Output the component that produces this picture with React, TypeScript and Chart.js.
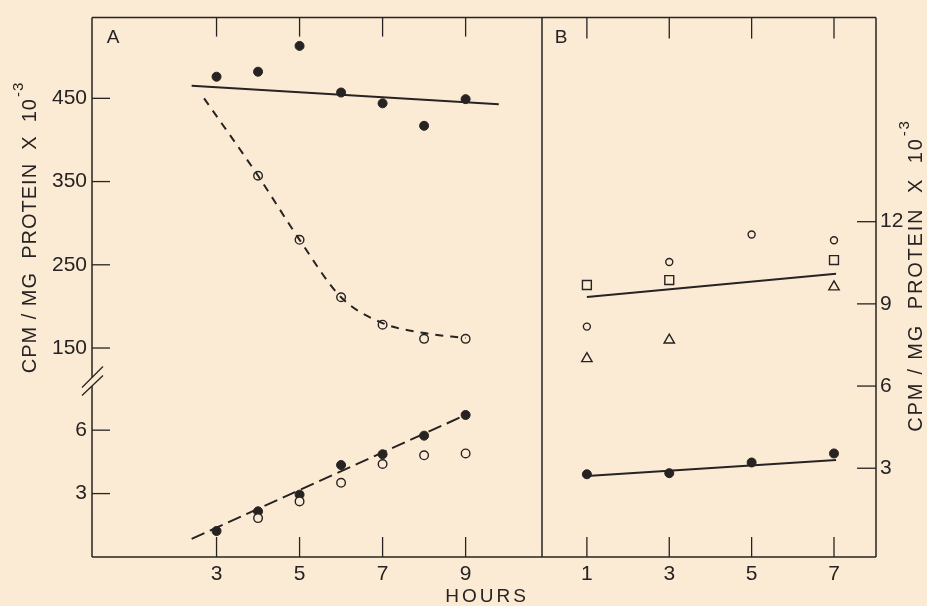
import React, { useEffect, useRef } from 'react';
import { Chart, registerables } from 'chart.js';

Chart.register(...registerables);

// ---------- data ----------
const HOURS_A = [3, 4, 5, 6, 7, 8, 9];
const A_UPPER_FILLED = [476, 482, 513, 457, 444, 417, 449];
const A_UPPER_OPEN_HOURS = [4, 5, 6, 7, 8, 9];
const A_UPPER_OPEN = [357, 280, 211, 178, 161, 161];
const A_UPPER_FIT_HOURS = [2.4, 9.8];
const A_UPPER_FIT = [465, 443];
const A_CURVE_HOURS = [2.7, 4, 5, 6, 7, 8, 9];
const A_CURVE = [450, 357, 280, 211, 180, 168, 162];
const A_LOWER_FILLED = [1.23, 2.16, 2.95, 4.35, 4.86, 5.74, 6.72];
const A_LOWER_OPEN_HOURS = [4, 5, 6, 7, 8, 9];
const A_LOWER_OPEN = [1.84, 2.63, 3.51, 4.4, 4.81, 4.9];
const A_LOWER_FIT_HOURS = [2.4, 9.0];
const A_LOWER_FIT = [0.86, 6.72];

const HOURS_B = [1, 3, 5, 7];
const B_FILLED = [2.78, 2.82, 3.21, 3.54];
const B_FILLED_FIT_HOURS = [1, 7.05];
const B_FILLED_FIT = [2.72, 3.3];
const B_OPEN = [8.17, 10.53, 11.53, 11.32];
const B_SQUARE_HOURS = [1, 3, 7];
const B_SQUARE = [9.69, 9.87, 10.6];
const B_TRIANGLE_HOURS = [1, 3, 7];
const B_TRIANGLE = [7.0, 7.68, 9.62];
const B_OPEN_FIT_HOURS = [1, 7.05];
const B_OPEN_FIT = [9.25, 10.1];

const TICKS_A_X = [3, 5, 7, 9];
const TICKS_B_X = [1, 3, 5, 7];
const TICKS_A_UPPER = [150, 250, 350, 450];
const TICKS_A_LOWER = [3, 6];
const TICKS_B_Y = [3, 6, 9, 12];

const Y_TITLE = 'CPM / MG  PROTEIN  X  10';
const Y_TITLE_SUP = '-3';
const X_TITLE = 'HOURS';

// ---------- style ----------
const BG = '#fcebd4';
const INK = '#262322';
const FONT = '"Liberation Sans", Arial, sans-serif';

const pts = (xs: number[], ys: number[]) => xs.map((x, i) => ({ x, y: ys[i] }));

const fixedTicks = (values: number[]) => (scale: any) => {
  scale.ticks = values.map((v) => ({ value: v }));
};

function drawRotatedTitle(ctx: CanvasRenderingContext2D, cx: number, cy: number, spacing: number) {
  ctx.save();
  ctx.translate(cx, cy);
  ctx.rotate(-Math.PI / 2);
  ctx.fillStyle = INK;
  (ctx as any).letterSpacing = `${spacing}px`;
  const mainFont = `20px ${FONT}`;
  const supFont = `15px ${FONT}`;
  ctx.font = mainFont;
  const w1 = ctx.measureText(Y_TITLE).width;
  ctx.font = supFont;
  const w2 = ctx.measureText(Y_TITLE_SUP).width;
  const x0 = -(w1 + w2) / 2;
  ctx.textAlign = 'left';
  ctx.textBaseline = 'middle';
  ctx.font = mainFont;
  ctx.fillText(Y_TITLE, x0, 0);
  ctx.font = supFont;
  ctx.fillText(Y_TITLE_SUP, x0 + w1 + 1, -11);
  ctx.restore();
}

const framePlugin = {
  id: 'frame',
  beforeDraw(chart: any) {
    const { ctx, width, height } = chart;
    ctx.save();
    ctx.fillStyle = BG;
    ctx.fillRect(0, 0, width, height);
    ctx.restore();
  },
  afterDraw(chart: any) {
    const { ctx, chartArea: ca, scales } = chart;
    const { xA, xB, yTop, yBot, yB } = scales;
    const line = (x1: number, y1: number, x2: number, y2: number) => {
      ctx.beginPath();
      ctx.moveTo(x1, y1);
      ctx.lineTo(x2, y2);
      ctx.stroke();
    };
    ctx.save();
    ctx.strokeStyle = INK;
    ctx.lineWidth = 1.5;
    ctx.lineCap = 'butt';
    // frame
    line(ca.left, ca.top, ca.right, ca.top);
    line(ca.left, ca.bottom, ca.right, ca.bottom);
    line(ca.right, ca.top, ca.right, ca.bottom);
    line(xA.right, ca.top, xA.right, ca.bottom);
    const breakY = Math.max(yTop.bottom, yBot.top);
    line(ca.left, ca.top, ca.left, breakY - 3);
    line(ca.left, breakY + 5.5, ca.left, ca.bottom);
    // break marks
    ctx.lineWidth = 1.3;
    line(ca.left - 10, breakY + 7, ca.left + 11, breakY - 14);
    line(ca.left - 10, breakY + 15, ca.left + 11, breakY - 5);
    // inward ticks
    ctx.lineWidth = 1.3;
    for (const v of TICKS_A_X) {
      const x = xA.getPixelForValue(v);
      line(x, ca.bottom, x, ca.bottom - 20);
      line(x, ca.top, x, ca.top + 19);
    }
    for (const v of TICKS_B_X) {
      const x = xB.getPixelForValue(v);
      line(x, ca.bottom, x, ca.bottom - 20);
      line(x, ca.top, x, ca.top + 21);
    }
    for (const v of TICKS_A_UPPER) {
      const y = yTop.getPixelForValue(v);
      line(ca.left, y, ca.left + 18, y);
    }
    for (const v of TICKS_A_LOWER) {
      const y = yBot.getPixelForValue(v);
      line(ca.left, y, ca.left + 18, y);
    }
    for (const v of TICKS_B_Y) {
      const y = yB.getPixelForValue(v);
      line(ca.right, y, ca.right - 19, y);
    }
    // panel letters
    ctx.fillStyle = INK;
    ctx.font = `19px ${FONT}`;
    ctx.textAlign = 'center';
    ctx.textBaseline = 'middle';
    ctx.fillText('A', ca.left + 21, ca.top + 20);
    ctx.fillText('B', xA.right + 19, ca.top + 20);
    // axis titles
    drawRotatedTitle(ctx, 30, 228, 1);
    drawRotatedTitle(ctx, 916, 276, 1.8);
    ctx.font = `19px ${FONT}`;
    (ctx as any).letterSpacing = '3px';
    ctx.textAlign = 'center';
    ctx.textBaseline = 'middle';
    ctx.fillText(X_TITLE, 487, 597);
    ctx.restore();
  },
};

const filled = (r: number) => ({
  pointStyle: 'circle',
  pointRadius: r,
  pointBackgroundColor: INK,
  pointBorderColor: INK,
  pointBorderWidth: 1,
  showLine: false,
});
const open = (r: number, style = 'circle') => ({
  pointStyle: style,
  pointRadius: r,
  pointBackgroundColor: BG,
  pointBorderColor: INK,
  pointBorderWidth: 1.4,
  showLine: false,
});
const fitLine = (dash: number[]) => ({
  showLine: true,
  pointRadius: 0,
  borderColor: INK,
  borderWidth: 2,
  borderDash: dash,
});

export default function App() {
  const ref = useRef<HTMLCanvasElement | null>(null);

  useEffect(() => {
    if (!ref.current) return;
    const tickFont = { family: FONT, size: 21 };
    const chart = new Chart(ref.current, {
      type: 'scatter',
      data: {
        datasets: [
          { label: 'A upper fit', data: pts(A_UPPER_FIT_HOURS, A_UPPER_FIT), xAxisID: 'xA', yAxisID: 'yTop', ...fitLine([]) },
          { label: 'A curve', data: pts(A_CURVE_HOURS, A_CURVE), xAxisID: 'xA', yAxisID: 'yTop', ...fitLine([8, 7]), cubicInterpolationMode: 'monotone' },
          { label: 'A lower fit', data: pts(A_LOWER_FIT_HOURS, A_LOWER_FIT), xAxisID: 'xA', yAxisID: 'yBot', ...fitLine([14, 6]) },
          { label: 'B filled fit', data: pts(B_FILLED_FIT_HOURS, B_FILLED_FIT), xAxisID: 'xB', yAxisID: 'yB', ...fitLine([]) },
          { label: 'B open fit', data: pts(B_OPEN_FIT_HOURS, B_OPEN_FIT), xAxisID: 'xB', yAxisID: 'yB', ...fitLine([]) },
          { label: 'A upper filled', data: pts(HOURS_A, A_UPPER_FILLED), xAxisID: 'xA', yAxisID: 'yTop', ...filled(4.5) },
          { label: 'A upper open', data: pts(A_UPPER_OPEN_HOURS, A_UPPER_OPEN), xAxisID: 'xA', yAxisID: 'yTop', ...open(4.3) },
          { label: 'A lower open', data: pts(A_LOWER_OPEN_HOURS, A_LOWER_OPEN), xAxisID: 'xA', yAxisID: 'yBot', ...open(4.3) },
          { label: 'A lower filled', data: pts(HOURS_A, A_LOWER_FILLED), xAxisID: 'xA', yAxisID: 'yBot', ...filled(4.5) },
          { label: 'B filled', data: pts(HOURS_B, B_FILLED), xAxisID: 'xB', yAxisID: 'yB', ...filled(4.5) },
          { label: 'B open', data: pts(HOURS_B, B_OPEN), xAxisID: 'xB', yAxisID: 'yB', ...open(3.5) },
          { label: 'B square', data: pts(B_SQUARE_HOURS, B_SQUARE), xAxisID: 'xB', yAxisID: 'yB', ...open(6.3, 'rect') },
          { label: 'B triangle', data: pts(B_TRIANGLE_HOURS, B_TRIANGLE), xAxisID: 'xB', yAxisID: 'yB', ...open(6, 'triangle') },
        ] as any,
      },
      options: {
        animation: false,
        responsive: false,
        maintainAspectRatio: false,
        layout: { padding: { top: 10, left: 0, right: 0, bottom: 0 } },
        plugins: { legend: { display: false }, tooltip: { enabled: false } },
        scales: {
          xA: {
            type: 'linear', position: 'bottom', stack: 'hours', stackWeight: 450,
            min: 0, max: 10.84,
            grid: { display: false, drawTicks: false }, border: { display: false },
            afterBuildTicks: fixedTicks(TICKS_A_X),
            afterFit: (s: any) => { s.height = 49; },
            ticks: { font: tickFont, color: INK, padding: 5, autoSkip: false, maxRotation: 0 },
          },
          xB: {
            type: 'linear', position: 'bottom', stack: 'hours', stackWeight: 334,
            min: -0.09, max: 8.02,
            grid: { display: false, drawTicks: false }, border: { display: false },
            afterBuildTicks: fixedTicks(TICKS_B_X),
            afterFit: (s: any) => { s.height = 49; },
            ticks: { font: tickFont, color: INK, padding: 5, autoSkip: false, maxRotation: 0 },
          },
          yBot: {
            type: 'linear', position: 'left', stack: 'cpm', stackWeight: 179,
            min: 0, max: 8.35,
            grid: { display: false, drawTicks: false }, border: { display: false },
            afterBuildTicks: fixedTicks(TICKS_A_LOWER),
            afterFit: (s: any) => { s.width = 92; },
            ticks: { font: tickFont, color: INK, padding: 5, autoSkip: false },
          },
          yTop: {
            type: 'linear', position: 'left', stack: 'cpm', stackWeight: 368,
            min: 111, max: 547,
            grid: { display: false, drawTicks: false }, border: { display: false },
            afterBuildTicks: fixedTicks(TICKS_A_UPPER),
            afterFit: (s: any) => { s.width = 92; },
            ticks: { font: tickFont, color: INK, padding: 5, autoSkip: false },
          },
          yB: {
            type: 'linear', position: 'right',
            min: -0.24, max: 19.45,
            grid: { display: false, drawTicks: false }, border: { display: false },
            afterBuildTicks: fixedTicks(TICKS_B_Y),
            afterFit: (s: any) => { s.width = 51; },
            ticks: { font: tickFont, color: INK, padding: 4, autoSkip: false },
          },
        } as any,
      },
      plugins: [framePlugin],
    });
    return () => chart.destroy();
  }, []);

  return (
    <div style={{ position: 'absolute', left: 0, top: 0, width: 927, height: 606, background: BG }}>
      <canvas ref={ref} width={927} height={606} style={{ display: 'block', width: 927, height: 606 }} />
    </div>
  );
}
